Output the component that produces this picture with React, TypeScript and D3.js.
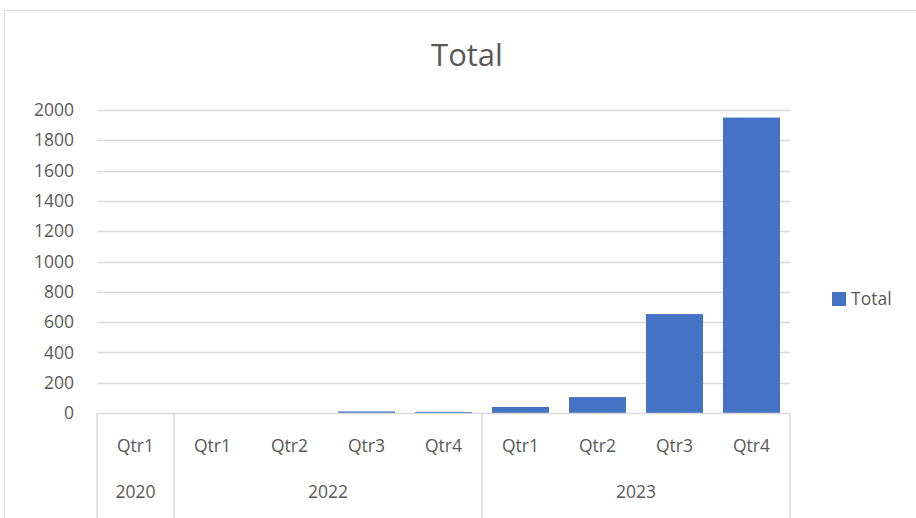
import * as d3 from "d3";
import { useEffect, useRef } from "react";

const years = ["2020", "2022", "2022", "2022", "2022", "2023", "2023", "2023", "2023"];
const quarters = ["Qtr1", "Qtr1", "Qtr2", "Qtr3", "Qtr4", "Qtr1", "Qtr2", "Qtr3", "Qtr4"];
const totals = [0, 0, 0, 10, 7, 40, 105, 653, 1950];
const yTicks = [0, 200, 400, 600, 800, 1000, 1200, 1400, 1600, 1800, 2000];

const App = () => {
  const svgRef = useRef<SVGSVGElement>(null);

  useEffect(() => {
    const svg = d3.select(svgRef.current);
    svg.selectAll("*").remove();

    const W = 916;
    const H = 518;
    const left = 97;
    const right = 790;
    const top = 110;
    const bottom = 413;
    const font = "'Open Sans', 'Noto Sans', sans-serif";
    const txt = "#595959";

    svg.attr("width", W).attr("height", H);

    // chart area border
    svg
      .append("rect")
      .attr("x", 4.5)
      .attr("y", 10.5)
      .attr("width", W + 10)
      .attr("height", H + 10)
      .attr("fill", "#fff")
      .attr("stroke", "#d9d9d9");

    const idx = totals.map((_, i) => String(i));
    const x = d3.scaleBand().domain(idx).range([left, right]).paddingInner(0.26).paddingOuter(0.13);
    const band = d3.scaleBand().domain(idx).range([left, right]);
    const y = d3.scaleLinear().domain([0, 2000]).range([bottom, top]);

    svg
      .append("text")
      .attr("x", 467)
      .attr("y", 55)
      .attr("dy", "0.35em")
      .attr("text-anchor", "middle")
      .attr("fill", txt)
      .style("font-family", font)
      .style("font-size", "31px")
      .text("Total");

    // gridlines
    svg
      .append("g")
      .selectAll("line")
      .data(yTicks.filter((t) => t > 0))
      .enter()
      .append("line")
      .attr("x1", left)
      .attr("x2", right)
      .attr("y1", (d) => Math.round(y(d)) + 0.5)
      .attr("y2", (d) => Math.round(y(d)) + 0.5)
      .attr("stroke", "#d9d9d9")
      .attr("stroke-width", 1.5);

    // y labels
    svg
      .append("g")
      .selectAll("text")
      .data(yTicks)
      .enter()
      .append("text")
      .attr("x", 74)
      .attr("y", (d) => y(d))
      .attr("dy", "0.35em")
      .attr("text-anchor", "end")
      .attr("fill", txt)
      .style("font-family", font)
      .style("font-size", "17.5px")
      .text((d) => d);

    // bars
    svg
      .append("g")
      .selectAll("rect")
      .data(totals)
      .enter()
      .append("rect")
      .attr("x", (_, i) => x(String(i)) || 0)
      .attr("y", (d) => y(d))
      .attr("width", x.bandwidth())
      .attr("height", (d) => bottom - y(d))
      .attr("fill", "#4472c4");

    // category axis
    const ax = svg.append("g").attr("stroke", "#d9d9d9").attr("stroke-width", 1.5);
    ax.append("line").attr("x1", left).attr("x2", right).attr("y1", bottom + 0.5).attr("y2", bottom + 0.5);
    const groupEdges: number[] = [left];
    years.forEach((yr, i) => {
      if (i > 0 && yr !== years[i - 1]) groupEdges.push(band(String(i)) || 0);
    });
    groupEdges.push(right);
    ax.selectAll("line.sep")
      .data(groupEdges)
      .enter()
      .append("line")
      .attr("class", "sep")
      .attr("x1", (d) => d)
      .attr("x2", (d) => d)
      .attr("y1", bottom)
      .attr("y2", H);

    svg
      .append("g")
      .selectAll("text")
      .data(quarters)
      .enter()
      .append("text")
      .attr("x", (_, i) => (band(String(i)) || 0) + band.bandwidth() / 2)
      .attr("y", 446)
      .attr("dy", "0.35em")
      .attr("text-anchor", "middle")
      .attr("fill", txt)
      .style("font-family", font)
      .style("font-size", "17.5px")
      .text((d) => d);

    const groups: { year: string; start: number; end: number }[] = [];
    years.forEach((yr, i) => {
      const last = groups[groups.length - 1];
      if (last && last.year === yr) last.end = i;
      else groups.push({ year: yr, start: i, end: i });
    });
    svg
      .append("g")
      .selectAll("text")
      .data(groups)
      .enter()
      .append("text")
      .attr("x", (d) => ((band(String(d.start)) || 0) + (band(String(d.end)) || 0) + band.bandwidth()) / 2)
      .attr("y", 492)
      .attr("dy", "0.35em")
      .attr("text-anchor", "middle")
      .attr("fill", txt)
      .style("font-family", font)
      .style("font-size", "17.5px")
      .text((d) => d.year);

    // legend
    svg.append("rect").attr("x", 832).attr("y", 292).attr("width", 14).attr("height", 14).attr("fill", "#4472c4");
    svg
      .append("text")
      .attr("x", 851)
      .attr("y", 299)
      .attr("dy", "0.35em")
      .attr("fill", txt)
      .style("font-family", font)
      .style("font-size", "17.5px")
      .text("Total");
  }, []);

  return <svg ref={svgRef} style={{ position: "absolute", left: 0, top: 0 }}></svg>;
};

export default App;
